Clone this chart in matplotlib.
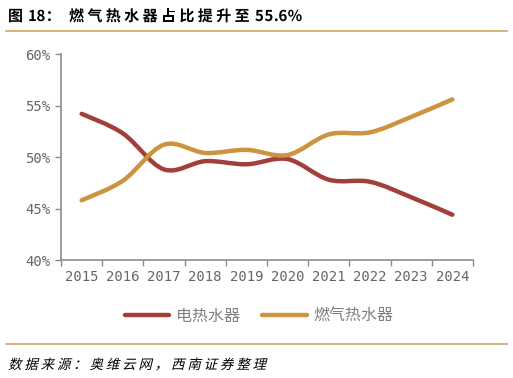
import matplotlib
matplotlib.use('Agg')
import matplotlib.pyplot as plt
from matplotlib.path import Path
from matplotlib.patches import PathPatch
from matplotlib.textpath import TextPath
from matplotlib.font_manager import FontProperties
from matplotlib.lines import Line2D
from matplotlib.transforms import Affine2D

years = ['2015', '2016', '2017', '2018', '2019', '2020', '2021', '2022', '2023', '2024']
electric = [54.2, 52.3, 48.8, 49.6, 49.3, 49.8, 47.8, 47.6, 46.1, 44.4]
gas = [45.8, 47.7, 51.2, 50.4, 50.7, 50.2, 52.2, 52.4, 53.9, 55.6]
y_ticks = [40, 45, 50, 55, 60]

c_elec = '#A33F3B'
c_gas = '#CC9340'
c_rule = '#D2A565'
cjk = ['Noto Sans CJK SC', 'DejaVu Sans']


def smooth_path(xs, ys):
    # excel-like smoothed line: bezier segments through the data points
    pts = list(zip(xs, ys))
    verts = [pts[0]]
    codes = [Path.MOVETO]
    n = len(pts)
    for i in range(n - 1):
        p0 = pts[i - 1] if i > 0 else pts[i]
        p1 = pts[i]
        p2 = pts[i + 1]
        p3 = pts[i + 2] if i + 2 < n else pts[i + 1]
        c1 = (p1[0] + (p2[0] - p0[0]) / 6, p1[1] + (p2[1] - p0[1]) / 6)
        c2 = (p2[0] - (p3[0] - p1[0]) / 6, p2[1] - (p3[1] - p1[1]) / 6)
        verts += [c1, c2, p2]
        codes += [Path.CURVE4] * 3
    return Path(verts, codes)


def spaced_text(fig, s, x0, y0, size, pitch, weight='normal', skew=0):
    # draw text char by char in pixel coords; cjk chars get a fixed pitch
    fp = FontProperties(family='Noto Sans CJK SC', weight=weight)
    x = x0
    for ch in s:
        if ch != ' ':
            tp = TextPath((0, 0), ch, size=size, prop=fp)
            tr = Affine2D().skew_deg(skew, 0).translate(x, y0)
            fig.patches.append(PathPatch(tr.transform_path(tp), facecolor='black',
                                         edgecolor='none', transform=None, figure=fig))
        if ord(ch) > 0x2000:
            x += pitch
        else:
            x += TextPath((0, 0), ch, size=size, prop=fp).get_extents().width + size * 0.12 \
                if ch not in ' ' else size * 0.35


fig = plt.figure(figsize=(5.13, 3.78), dpi=100)
ax = fig.add_axes([0.119, 0.312, 0.803, 0.545])

x = list(range(len(years)))
for vals, col in [(electric, c_elec), (gas, c_gas)]:
    patch = PathPatch(smooth_path(x, vals), facecolor='none', edgecolor=col,
                      lw=3.2, capstyle='round', joinstyle='round')
    ax.add_patch(patch)

ax.set_xlim(-0.5, len(years) - 0.5)
ax.set_ylim(40, 60)
ax.set_yticks(y_ticks)
ax.set_yticklabels([f'{v}%' for v in y_ticks])
ax.set_xticks([i - 0.5 for i in range(len(years) + 1)])
ax.set_xticklabels([])
ax.set_xticks(x, minor=True)
ax.set_xticklabels(years, minor=True)
ax.tick_params(axis='x', which='minor', length=0, pad=7)
ax.tick_params(axis='both', which='major', length=4, color='#8c8c8c', width=1)
for lab in ax.get_xticklabels(minor=True) + ax.get_yticklabels():
    lab.set_family('DejaVu Sans Mono')
    lab.set_fontsize(10)
    lab.set_color('#666666')
for s in ['top', 'right']:
    ax.spines[s].set_visible(False)
for s in ['left', 'bottom']:
    ax.spines[s].set_color('#8c8c8c')
    ax.spines[s].set_linewidth(1.2)

handles = [Line2D([], [], color=c_elec, lw=3.2, solid_capstyle='round'),
           Line2D([], [], color=c_gas, lw=3.2, solid_capstyle='round')]
fig.legend(handles, ['电热水器', '燃气热水器'], loc='center', bbox_to_anchor=(0.505, 0.163),
           ncol=2, frameon=False, prop={'family': cjk, 'size': 11.5}, labelcolor='#808080',
           handlelength=2.8, handletextpad=0.4, columnspacing=1.4)

# title, letter-spaced like the reference
spaced_text(fig, '图', 8, 357, 15, 19, weight='bold')
spaced_text(fig, '18：', 28, 357, 15, 17, weight='bold')
spaced_text(fig, '燃气热水器占比提升至', 69, 357, 15, 18.4, weight='bold')
spaced_text(fig, '55.6%', 255, 357, 15, 18, weight='bold')
fig.add_artist(Line2D([0.012, 0.988], [0.918, 0.918], color=c_rule, lw=1.2))
fig.add_artist(Line2D([0.012, 0.988], [0.09, 0.09], color=c_rule, lw=1.2))

# italic source line: skewed glyphs
spaced_text(fig, '数据来源：奥维云网，西南证券整理', 8, 9, 13.5, 16.3, skew=14)

fig.savefig('out.png', dpi=100)
